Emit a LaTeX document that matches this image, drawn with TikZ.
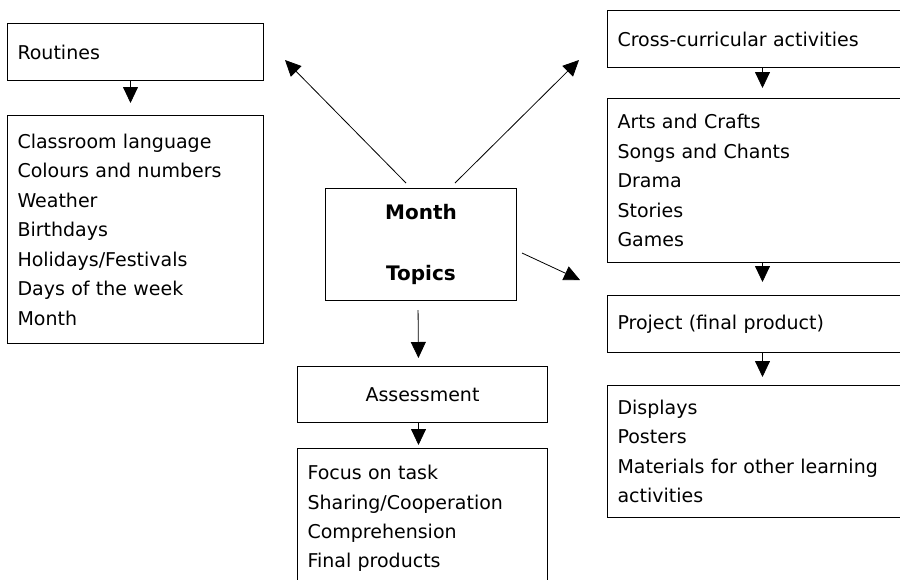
\documentclass[tikz,border=0pt]{standalone}
\usepackage{fontspec}
\setmainfont{DejaVu Sans}
\usetikzlibrary{arrows.meta,calc}
\begin{document}
\begin{tikzpicture}[x=1pt,y=-1pt,
  every node/.style={font=\fontsize{19}{29.5}\selectfont},
  box/.style={draw, line width=1pt, rectangle, inner xsep=10pt, inner ysep=0pt, align=left, anchor=north west},
  cbox/.style={draw, line width=1pt, rectangle, inner sep=0pt, align=center, anchor=north west},
  arr/.style={line width=0.8pt, -{Triangle[length=16pt,width=15pt]}}
]
\useasboundingbox (0,0) rectangle (900,579);
% left column
\node[box, text width=236pt, minimum width=256pt, minimum height=57pt] (rt) at (7,23) {Routines};
\node[box, text width=236pt, minimum width=256pt, minimum height=228pt] (rl) at (7,115)
  {Classroom language\\Colours and numbers\\Weather\\Birthdays\\Holidays/Festivals\\Days of the week\\Month};
% centre
\node[cbox, minimum width=191pt, minimum height=112pt, font=\fontsize{20}{61}\selectfont\bfseries] (mt) at (325,188) {Month\\Topics};
\node[cbox, minimum width=250pt, minimum height=56pt] (as) at (297,366) {Assessment};
\node[box, text width=230pt, minimum width=250pt, minimum height=140pt] (al) at (297,448)
  {Focus on task\\Sharing/Cooperation\\Comprehension\\Final products};
% right column
\node[box, text width=290pt, minimum width=310pt, minimum height=57pt] (cc) at (607,10) {Cross-curricular activities};
\node[box, text width=290pt, minimum width=310pt, minimum height=164pt] (ac) at (607,98)
  {Arts and Crafts\\Songs and Chants\\Drama\\Stories\\Games};
\node[box, text width=290pt, minimum width=310pt, minimum height=57pt] (pj) at (607,295) {Project (final product)};
\node[box, text width=290pt, minimum width=310pt, minimum height=132pt] (dp) at (607,385)
  {Displays\\Posters\\Materials for other learning\\activities};
% free ends of diagonal arrows
\coordinate (tl) at (285,60);
\coordinate (tr) at (579,60);
\coordinate (tb) at (580,280);
\coordinate (sl) at ($(mt.north west)+(81,-5)$);
\coordinate (sr) at ($(mt.north west)+(130,-5)$);
\coordinate (sb) at ($(mt.north east)+(5,65)$);
% connectors
\draw[arr, shorten >=12pt] ([xshift=-5pt]rt.south) -- ([xshift=-5pt]rl.north);
\draw[arr, shorten >=8pt, shorten <=9pt] ([xshift=-3pt]mt.south) -- ([xshift=-4pt]as.north);
\draw[arr, shorten >=3pt] ([xshift=-4pt]as.south) -- ([xshift=-4pt]al.north);
\draw[arr, shorten >=10pt] (cc.south) -- (ac.north);
\draw[arr, shorten >=13pt] (ac.south) -- (pj.north);
\draw[arr, shorten >=8pt] (pj.south) -- (dp.north);
\draw[arr] (sl) -- (tl);
\draw[arr] (sr) -- (tr);
\draw[arr] (sb) -- (tb);
\end{tikzpicture}
\end{document}
